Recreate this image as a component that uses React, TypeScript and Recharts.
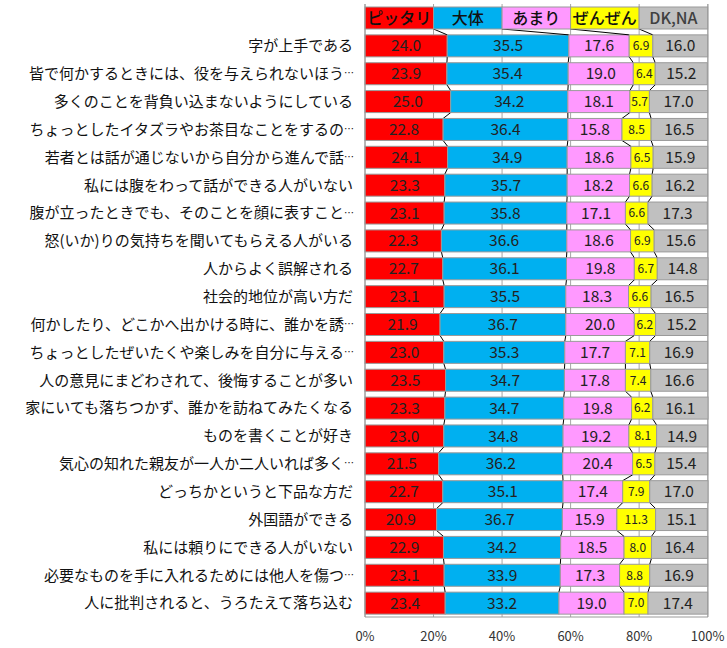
import React from "react";
import { BarChart, Bar, XAxis, YAxis, CartesianGrid, LabelList } from "recharts";

const categories = [
  "字が上手である",
  "皆で何かするときには、役を与えられないほう…",
  "多くのことを背負い込まないようにしている",
  "ちょっとしたイタズラやお茶目なことをするの…",
  "若者とは話が通じないから自分から進んで話…",
  "私には腹をわって話ができる人がいない",
  "腹が立ったときでも、そのことを顔に表すこと…",
  "怒(いか)りの気持ちを聞いてもらえる人がいる",
  "人からよく誤解される",
  "社会的地位が高い方だ",
  "何かしたり、どこかへ出かける時に、誰かを誘…",
  "ちょっとしたぜいたくや楽しみを自分に与える…",
  "人の意見にまどわされて、後悔することが多い",
  "家にいても落ちつかず、誰かを訪ねてみたくなる",
  "ものを書くことが好き",
  "気心の知れた親友が一人か二人いれば多く…",
  "どっちかというと下品な方だ",
  "外国語ができる",
  "私には頼りにできる人がいない",
  "必要なものを手に入れるためには他人を傷つ…",
  "人に批判されると、うろたえて落ち込む",
];

const pittari = [24.0, 23.9, 25.0, 22.8, 24.1, 23.3, 23.1, 22.3, 22.7, 23.1, 21.9, 23.0, 23.5, 23.3, 23.0, 21.5, 22.7, 20.9, 22.9, 23.1, 23.4];
const daitai = [35.5, 35.4, 34.2, 36.4, 34.9, 35.7, 35.8, 36.6, 36.1, 35.5, 36.7, 35.3, 34.7, 34.7, 34.8, 36.2, 35.1, 36.7, 34.2, 33.9, 33.2];
const amari = [17.6, 19.0, 18.1, 15.8, 18.6, 18.2, 17.1, 18.6, 19.8, 18.3, 20.0, 17.7, 17.8, 19.8, 19.2, 20.4, 17.4, 15.9, 18.5, 17.3, 19.0];
const zenzen = [6.9, 6.4, 5.7, 8.5, 6.5, 6.6, 6.6, 6.9, 6.7, 6.6, 6.2, 7.1, 7.4, 6.2, 8.1, 6.5, 7.9, 11.3, 8.0, 8.8, 7.0];
const dkna = [16.0, 15.2, 17.0, 16.5, 15.9, 16.2, 17.3, 15.6, 14.8, 16.5, 15.2, 16.9, 16.6, 16.1, 14.9, 15.4, 17.0, 15.1, 16.4, 16.9, 17.4];

const seriesNames = ["ピッタリ", "大体", "あまり", "ぜんぜん", "DK,NA"];
// the legend sits in the chart as a first row, each name taking an equal share
const legendShare = [20, 20, 20, 20, 20];
const xTicks = [0, 20, 40, 60, 80, 100];

const seriesValues = [pittari, daitai, amari, zenzen, dkna];
const colors = ["#FF0000", "#00B0F0", "#FF99FF", "#FFFF00", "#C0C0C0"];
const keys = ["s0", "s1", "s2", "s3", "s4"];

const data = [
  { name: "", s0: legendShare[0], s1: legendShare[1], s2: legendShare[2], s3: legendShare[3], s4: legendShare[4] },
  ...categories.map((name, i) => ({
    name,
    s0: pittari[i],
    s1: daitai[i],
    s2: amari[i],
    s3: zenzen[i],
    s4: dkna[i],
  })),
];

const FONT = "'Noto Sans CJK JP', 'Noto Sans', sans-serif";

// remembers each series' rect per row so series lines can join row i-1 to row i
const rects: Record<string, { x: number; y: number; w: number; h: number }[]> = {};

function makeShape(key: string, withLine: boolean) {
  return (props: any) => {
    const { x, y, width, height, index, fill } = props;
    if (!rects[key]) rects[key] = [];
    rects[key][index] = { x, y, w: width, h: height };
    const prev = index > 0 ? rects[key][index - 1] : undefined;
    return (
      <g>
        <rect x={x} y={y} width={width} height={height} fill={fill} stroke="#9a9a9a" strokeWidth={1} />
        {withLine && prev && (
          <line
            x1={prev.x + prev.w}
            y1={prev.y + prev.h}
            x2={x + width}
            y2={y}
            stroke="#000"
            strokeWidth={1}
          />
        )}
      </g>
    );
  };
}

function makeLabel(s: number) {
  return (props: any) => {
    const { x, y, width, height, index } = props;
    const cx = x + width / 2;
    const cy = y + height / 2;
    if (index === 0) {
      return (
        <text x={cx} y={cy} dy="0.36em" textAnchor="middle" fontSize={16} fontWeight={500} fontFamily={FONT}
          fill={s === 4 ? "#404040" : "#111"}>
          {seriesNames[s]}
        </text>
      );
    }
    const v = seriesValues[s][index - 1];
    return (
      <text x={cx} y={cy} dy="0.36em" textAnchor="middle" fontSize={s === 3 ? 12 : 15.5}
        fontFamily={FONT} fill="#222">
        {v.toFixed(1)}
      </text>
    );
  };
}

function CategoryTick(props: any) {
  const { x, y, payload } = props;
  const label: string = payload.value;
  if (!label) return null;
  if (label.endsWith("…")) {
    return (
      <g>
        <text x={x - 9} y={y} dy="0.36em" textAnchor="end" fontSize={15} fontFamily={FONT} fill="#111">
          {label.slice(0, -1)}
        </text>
        <text x={x - 9} y={y} dy="0.36em" textAnchor="start" fontSize={10} fontFamily={FONT} fill="#111">
          …
        </text>
      </g>
    );
  }
  return (
    <text x={x} y={y} dy="0.36em" textAnchor="end" fontSize={15} fontFamily={FONT} fill="#111">
      {label}
    </text>
  );
}

export default function App() {
  return (
    <div style={{ position: "absolute", left: 0, top: 0, background: "#fff" }}>
      <BarChart
        width={727}
        height={648}
        data={data}
        layout="vertical"
        margin={{ top: 4, right: 19, left: 0, bottom: 0 }}
        barSize={22}
        style={{ fontFamily: FONT }}
      >
        <CartesianGrid horizontal={false} stroke="#a6a6a6" />
        <XAxis
          type="number"
          domain={[0, 100]}
          ticks={xTicks}
          tickFormatter={(v: number) => `${v}%`}
          height={31}
          tickLine={false}
          tickSize={6}
          tickMargin={9}
          axisLine={{ stroke: "#9a9a9a" }}
          tick={{ fontSize: 13, fill: "#333", fontFamily: FONT }}
          interval={0}
        />
        <YAxis
          type="category"
          dataKey="name"
          width={365}
          tickLine={false}
          tickSize={0}
          tickMargin={12}
          axisLine={{ stroke: "#9a9a9a" }}
          tick={<CategoryTick />}
          interval={0}
        />
        {keys.map((k, s) => (
          <Bar
            key={k}
            dataKey={k}
            stackId="a"
            fill={colors[s]}
            isAnimationActive={false}
            shape={makeShape(k, s < 4)}
          >
            <LabelList dataKey={k} content={makeLabel(s)} />
          </Bar>
        ))}
      </BarChart>
    </div>
  );
}
